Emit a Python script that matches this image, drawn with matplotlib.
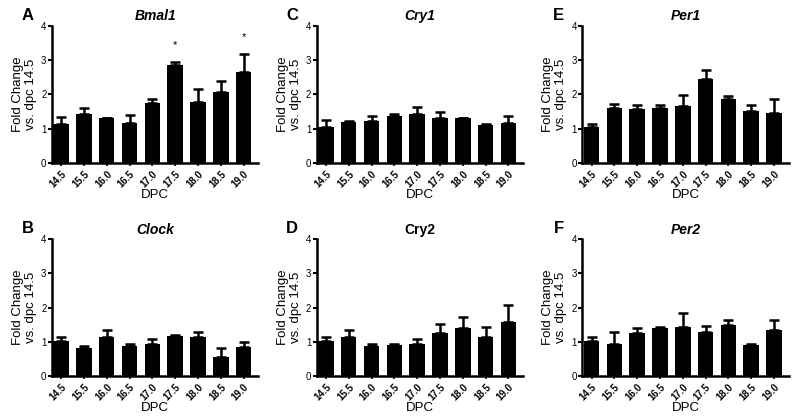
import matplotlib
matplotlib.use("Agg")
import matplotlib.pyplot as plt
import numpy as np

plt.rcParams['font.family'] = ['Liberation Sans', 'DejaVu Sans']

dpc = ['14.5', '15.5', '16.0', '16.5', '17.0', '17.5', '18.0', '18.5', '19.0']

bmal1 = [1.15, 1.42, 1.30, 1.18, 1.76, 2.87, 1.77, 2.07, 2.67]
bmal1_err = [0.19, 0.19, 0.02, 0.22, 0.11, 0.08, 0.40, 0.32, 0.51]
clock = [1.03, 0.81, 1.13, 0.88, 0.93, 1.17, 1.14, 0.56, 0.86]
clock_err = [0.11, 0.07, 0.21, 0.07, 0.16, 0.02, 0.16, 0.26, 0.15]
cry1 = [1.06, 1.19, 1.24, 1.36, 1.44, 1.31, 1.30, 1.10, 1.18]
cry1_err = [0.20, 0.03, 0.12, 0.06, 0.19, 0.18, 0.02, 0.03, 0.18]
cry2 = [1.03, 1.15, 0.87, 0.90, 0.93, 1.26, 1.42, 1.15, 1.58]
cry2_err = [0.10, 0.19, 0.08, 0.04, 0.15, 0.26, 0.31, 0.29, 0.50]
per1 = [1.04, 1.61, 1.57, 1.61, 1.65, 2.44, 1.86, 1.51, 1.46]
per1_err = [0.09, 0.10, 0.13, 0.09, 0.32, 0.26, 0.10, 0.19, 0.41]
per2 = [1.03, 0.95, 1.25, 1.42, 1.43, 1.28, 1.48, 0.91, 1.35]
per2_err = [0.10, 0.35, 0.15, 0.02, 0.41, 0.18, 0.17, 0.04, 0.29]

# letter, gene name, means, sem, significant bars, italic title
panels = [
    ('A', 'Bmal1', bmal1, bmal1_err, [5, 8], True),
    ('B', 'Clock', clock, clock_err, [], True),
    ('C', 'Cry1', cry1, cry1_err, [], True),
    ('D', 'Cry2', cry2, cry2_err, [], False),
    ('E', 'Per1', per1, per1_err, [], True),
    ('F', 'Per2', per2, per2_err, [], True),
]

fig = plt.figure(figsize=(8, 4.18), dpi=100)
lefts = [0.065, 0.396, 0.728]
bottoms = [0.61, 0.10]

for i, (letter, gene, vals, err, sig, ital) in enumerate(panels):
    col, row = i // 2, i % 2
    ax = fig.add_axes([lefts[col], bottoms[row], 0.258, 0.328])
    x = np.arange(len(dpc))
    ax.bar(x, vals, width=0.68, color='black')
    ax.errorbar(x, vals, yerr=[np.zeros(len(err)), err], fmt='none',
                ecolor='black', elinewidth=1.8, capsize=3.5, capthick=1.8)
    for s in sig:
        ax.text(s, vals[s] + err[s] + 0.48, '*', ha='center', va='center',
                fontsize=8)
    ax.set_xlim(-0.4, 8.65)
    ax.set_ylim(0, 4)
    ax.set_yticks([0, 1, 2, 3, 4])
    ax.set_xticks(x)
    ax.set_xticklabels(dpc, rotation=45, ha='right', rotation_mode='anchor',
                       fontsize=7, fontweight='bold')
    ax.tick_params(axis='y', labelsize=7, width=1.5, length=3, pad=1)
    ax.tick_params(axis='x', width=1.2, length=2, pad=2)
    for sp in ['top', 'right']:
        ax.spines[sp].set_visible(False)
    for sp in ['left', 'bottom']:
        ax.spines[sp].set_linewidth(1.8)
    ax.set_xlabel('DPC', fontsize=9.5, labelpad=0)
    ax.set_ylabel('Fold Change\nvs. dpc 14.5', fontsize=9.5, labelpad=3,
                  linespacing=1.1)
    ax.set_title(gene, fontsize=10, fontweight='bold',
                 fontstyle='italic' if ital else 'normal', pad=4)
    ax.text(-0.09, 1.02, letter, transform=ax.transAxes, fontsize=12,
            fontweight='bold', ha='right', va='bottom')

fig.savefig('out.png', dpi=100)
